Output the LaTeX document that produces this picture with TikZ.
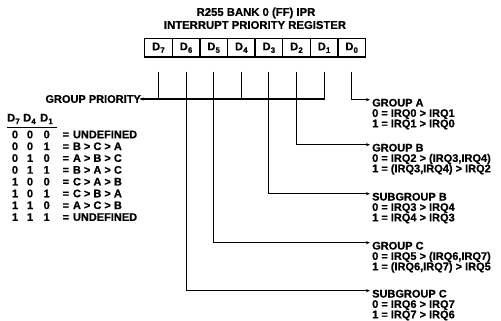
\documentclass[tikz,border=0pt]{standalone}
\usepackage{fontspec}
\setmainfont{Liberation Sans}[BoldFeatures={FakeBold=0.7}]
\usetikzlibrary{arrows.meta}
\newcommand\Dsub[1]{D\kern0.2pt\raisebox{-0.45ex}{\fontsize{7.8}{8}\selectfont #1}}
\begin{document}
\begin{tikzpicture}[x=1pt,y=-1pt,
  txt/.style={font=\fontsize{11}{12}\selectfont\bfseries, inner sep=0pt},
  ttl/.style={font=\fontsize{11.3}{12}\selectfont\bfseries, inner sep=0pt},
  lab/.style={txt, anchor=base west},
  cell/.style={draw, line width=1.4pt, minimum width=27.6pt, minimum height=18.5pt,
    inner sep=0pt, font=\fontsize{11}{12}\selectfont\bfseries},
  wire/.style={line width=1.1pt},
  arr/.style={wire, -{Stealth[length=4pt,width=3.2pt]}},
]
\useasboundingbox (0,0) rectangle (501,321);

% title
\node[ttl] (title1) at (256,13) {R255 BANK 0 (FF) IPR};
\node[ttl] (title2) at (255,25) {INTERRUPT PRIORITY REGISTER};

% register cells
\foreach \i/\n in {0/7,1/6,2/5,3/4,4/3,5/2,6/1,7/0}
  \node[cell] (d\n) at (144.7+27.6*\i+13.8, 47.75) {\Dsub{\n}};
\foreach \n in {0,...,7}
  \coordinate (k\n) at ([yshift=-14pt]d\n.south);

% group priority
\node[txt, anchor=east] (gp) at (141,99) {GROUP PRIORITY};
\draw[arr] (k1) |- ([xshift=-1.5pt]gp.east);
\draw[wire] (k7) -- (k7 |- gp.east);
\draw[wire] (k4) -- (k4 |- gp.east);

% right-hand labels
\node[lab] (ga)  at (372,106.5) {GROUP A};
\node[lab] (ga0) at (372,116.9) {0 = IRQ0 > IRQ1};
\node[lab] (ga1) at (372,127.3) {1 = IRQ1 > IRQ0};

\node[lab] (gb)  at (372,151.5) {GROUP B};
\node[lab] (gb0) at (372,161.9) {0 = IRQ2 > (IRQ3,IRQ4)};
\node[lab] (gb1) at (372,172.3) {1 = (IRQ3,IRQ4) > IRQ2};

\node[lab] (sb)  at (372,200.5) {SUBGROUP B};
\node[lab] (sb0) at (372,210.9) {0 = IRQ3 > IRQ4};
\node[lab] (sb1) at (372,221.3) {1 = IRQ4 > IRQ3};

\node[lab] (gc)  at (372,249.5) {GROUP C};
\node[lab] (gc0) at (372,259.9) {0 = IRQ5 > (IRQ6,IRQ7)};
\node[lab] (gc1) at (372,270.3) {1 = (IRQ6,IRQ7) > IRQ5};

\node[lab] (sc)  at (372,297.5) {SUBGROUP C};
\node[lab] (sc0) at (372,307.9) {0 = IRQ6 > IRQ7};
\node[lab] (sc1) at (372,318.3) {1 = IRQ7 > IRQ6};

\draw[arr] (k0) |- ([xshift=-2pt,yshift=6.8pt]ga.base west);
\draw[arr] (k2) |- ([xshift=-2pt,yshift=6.8pt]gb.base west);
\draw[arr] (k3) |- ([xshift=-2pt,yshift=6.8pt]sb.base west);
\draw[arr] (k5) |- ([xshift=-2pt,yshift=6.8pt]gc.base west);
\draw[arr] (k6) |- ([xshift=-2pt,yshift=6.8pt]sc.base west);

% priority table
\node[txt] (h7) at (13.5,119) {\Dsub{7}};
\node[txt] (h4) at (29.5,119) {\Dsub{4}};
\node[txt] (h1) at (46.5,119) {\Dsub{1}};
\coordinate (ulA) at (7,127.5);
\coordinate (ulB) at (57,127.5);
\draw[wire] (ulA) -- (ulB);

\foreach \r/\a/\b/\c/\t in {0/0/0/0/UNDEFINED, 1/0/0/1/B > C > A, 2/0/1/0/A > B > C,
    3/0/1/1/B > A > C, 4/1/0/0/C > A > B, 5/1/0/1/C > B > A, 6/1/1/0/A > C > B,
    7/1/1/1/UNDEFINED} {
  \node[txt] (r\r a) at (15,134.5+11.8*\r) {\a};
  \node[txt] (r\r b) at (30,134.5+11.8*\r) {\b};
  \node[txt] (r\r c) at (46.7,134.5+11.8*\r) {\c};
  \node[txt, anchor=west] (r\r t) at (62.5,134.5+11.8*\r) {=\hspace{0.35em}\t};
}
\end{tikzpicture}
\end{document}
